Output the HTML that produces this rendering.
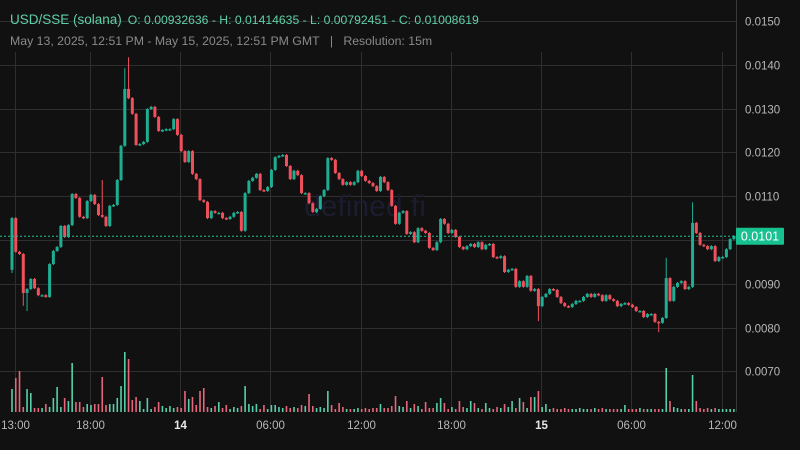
<!DOCTYPE html>
<html><head><meta charset="utf-8"><style>
html,body{margin:0;padding:0;background:#111111;}
svg{display:block;font-family:"Liberation Sans",sans-serif;}
</style></head><body>
<svg id="chart" width="800" height="450" viewBox="0 0 800 450" xmlns="http://www.w3.org/2000/svg">
<rect x="0" y="0" width="800" height="450" fill="#111111"/>
<g id="grid"></g>
<text x="365" y="216" font-size="30" fill="#1c1c30" text-anchor="middle">defined.fi</text>
<g id="vol"></g>
<g id="candles"></g>
<line x1="736.5" y1="0" x2="736.5" y2="412" stroke="#3a3a3a" stroke-width="1"/>
<g id="yaxis"></g>
<g id="xaxis"></g>
<g id="lastprice"></g>
<text x="10" y="24" font-size="13.5" fill="#5fd0a8">USD/SSE (solana)<tspan dx="6" font-size="12.2">O: 0.00932636 - H: 0.01414635 - L: 0.00792451 - C: 0.01008619</tspan></text>
<text x="10" y="45" font-size="12.3" fill="#8a8a8a">May 13, 2025, 12:51 PM - May 15, 2025, 12:51 PM GMT&#160;&#160;&#160;|&#160;&#160;&#160;Resolution: 15m</text>
</svg>
<script>
// price data (close per 15m candle; open = previous close)
const firstOpen = 0.00932;
const closes = [10.50,9.73,9.68,8.79,8.88,9.11,8.90,8.74,8.74,8.70,
9.45,9.75,9.84,10.32,10.07,10.34,11.05,10.96,10.53,10.50,
10.89,11.03,10.82,10.57,10.53,10.32,10.78,10.80,11.37,12.15,
13.45,13.24,12.88,12.17,12.19,12.24,12.99,13.04,12.81,12.49,
12.51,12.53,12.53,12.76,12.40,12.03,11.78,12.03,11.51,11.39,
10.91,10.87,10.50,10.66,10.62,10.62,10.50,10.48,10.53,10.62,
10.64,10.21,11.07,11.35,11.42,11.51,11.14,11.12,11.21,11.60,
11.89,11.92,11.94,11.69,11.39,11.58,11.48,11.07,11.07,10.84,
10.64,10.71,11.00,11.14,11.87,11.83,11.53,11.39,11.26,11.32,
11.26,11.32,11.58,11.46,11.35,11.30,11.23,11.12,11.44,11.32,
11.14,10.78,10.37,10.62,10.66,10.14,10.18,9.95,10.27,10.21,
10.16,9.82,9.77,9.95,10.48,10.37,10.16,10.23,10.07,9.84,
9.79,9.86,9.91,9.84,9.95,9.79,9.89,9.91,9.61,9.59,
9.63,9.27,9.32,9.34,8.93,9.06,8.93,9.18,8.84,8.88,
8.49,8.70,8.77,8.88,8.86,8.70,8.56,8.49,8.47,8.54,
8.61,8.61,8.70,8.77,8.70,8.77,8.74,8.61,8.74,8.65,
8.61,8.49,8.54,8.56,8.52,8.47,8.38,8.38,8.24,8.31,
8.31,8.13,8.11,8.22,9.13,8.61,8.93,9.02,9.06,8.88,
8.93,10.39,10.16,9.89,9.86,9.79,9.86,9.52,9.61,9.61,
9.79,10.02,10.09];
// notable wick extremes (index -> price x1000)
const highIdx = [30,31,24,174,181];
const highVal = [13.90,14.15,11.35,9.57,10.84];
const lowIdx = [0,3,4,140,172];
const lowVal = [9.27,8.52,8.40,8.17,7.92];
const volumes = [23,34,41,5,23,19,4,4,4,8,
5,14,25,5,14,11,49,10,10,5,
8,7,8,8,35,7,8,8,14,26,
60,53,12,15,11,3,14,3,5,10,
6,4,6,4,5,4,21,13,15,7,
21,24,5,4,6,10,4,7,3,5,
4,6,26,8,6,8,3,7,3,7,
7,5,4,6,4,5,4,7,6,18,
6,4,5,4,21,7,3,9,5,3,
3,3,4,3,4,3,4,4,8,4,
4,6,16,6,5,11,4,8,6,3,
10,4,4,9,14,9,3,5,3,11,
5,4,11,9,4,3,9,4,3,5,
4,8,5,11,4,14,10,4,15,15,
21,5,8,3,4,3,3,4,3,3,
3,4,3,3,3,4,3,4,3,3,
3,3,3,7,3,3,3,4,3,3,
3,3,3,3,44,11,5,4,3,3,
3,37,11,4,3,4,3,4,3,3,
3,3,3];
const priceTicks = [15,14,13,12,11,10,9,8,7];
const priceTickLabels = ["0.0150","0.0140","0.0130","0.0120","0.0110","0.0100","0.0090","0.0080","0.0070"];
const timeTickIdx = [1,21,45,69,93,117,141,165,189];
const timeTickLabels = ["13:00","18:00","14","06:00","12:00","18:00","15","06:00","12:00"];
const timeTickBold = [false,false,true,false,false,false,true,false,false];
const lastPrice = 10.08619;
const lastLabel = "0.0101";

const NS="http://www.w3.org/2000/svg";
const yP = p => 240 - (p-10)*43.8;
const xI = i => 12 + i*3.76;
const yV = v => 412 - v;
function mk(tag, attrs, parent){const e=document.createElementNS(NS,tag);for(const k in attrs)e.setAttribute(k,attrs[k]);parent.appendChild(e);return e;}
const G=document.getElementById('grid'),C=document.getElementById('candles'),V=document.getElementById('vol'),YA=document.getElementById('yaxis'),XA=document.getElementById('xaxis'),LP=document.getElementById('lastprice');

priceTicks.forEach((p,k)=>{
  const y=Math.round(yP(p))+0.5;
  const l=mk('line',{x1:0,y1:y,x2:736,y2:y,stroke:'#2f2f2f','stroke-width':1},G);
  
  
  const t=mk('text',{x:745,y:y+4,'font-size':11.5,fill:'#b8b8b8'},YA);
  t.textContent=priceTickLabels[k];
  
  
});
timeTickIdx.forEach((i,k)=>{
  const x=Math.round(xI(i))-0.5;
  const l=mk('line',{x1:x,y1:52,x2:x,y2:412,stroke:'#2f2f2f','stroke-width':1},G);
  
  
  const t=mk('text',{x:x,y:429,'font-size':11.5,fill:timeTickBold[k]?'#e8e8e8':'#b8b8b8','text-anchor':'middle','font-weight':timeTickBold[k]?'bold':'normal'},XA);
  t.textContent=timeTickLabels[k];
  
  
});

let prev=firstOpen*1000;
closes.forEach((c,i)=>{
  const o=prev; prev=c;
  const up=c>=o;
  let hi=Math.max(o,c), lo=Math.min(o,c);
  const hk=highIdx.indexOf(i); if(hk>=0) hi=highVal[hk];
  const lk=lowIdx.indexOf(i); if(lk>=0) lo=lowVal[lk];
  const col=up?'#1fae92':'#f0505c';
  const x=xI(i);
  const w=mk('line',{x1:x,y1:yP(hi)-1,x2:x,y2:yP(lo)+1,stroke:col,'stroke-width':1},C);
  
  
  const yt=yP(Math.max(o,c)), yb=yP(Math.min(o,c));
  const b=mk('rect',{x:x-1.5,y:yt,width:3,height:Math.max(1.5,yb-yt),fill:col},C);
  
  
  const v=volumes[i];
  const vb=mk('rect',{x:x-0.8,y:yV(v),width:1.6,height:v,fill:up?'#56cfa8':'#e6677b'},V);
  
  
});

const ly=yP(lastPrice);
const dl=mk('line',{x1:0,y1:ly,x2:736,y2:ly,stroke:'#1fc197','stroke-width':1,'stroke-dasharray':'2,2'},LP);


const bx=mk('rect',{x:736,y:ly-8.5,width:48,height:17,rx:1,fill:'#17c190'},LP);


const lt=mk('text',{x:760,y:ly+4.5,'font-size':12.5,fill:'#ffffff','text-anchor':'middle'},LP);
lt.textContent=lastLabel;


</script>
</body></html>
